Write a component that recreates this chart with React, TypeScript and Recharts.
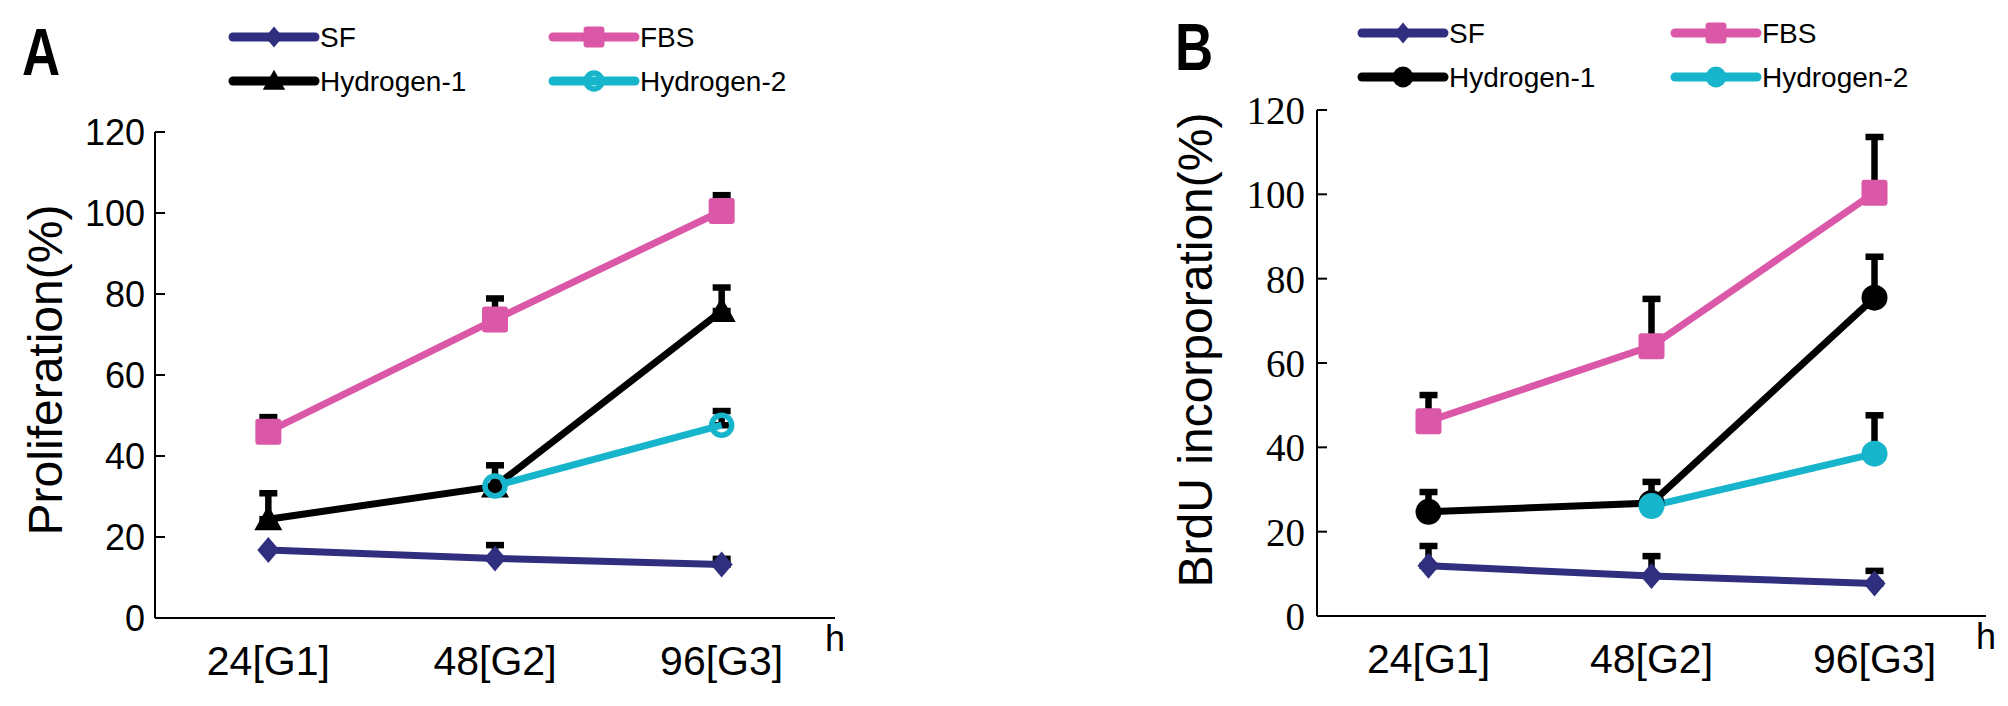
import React from 'react';
import { LineChart, Line, XAxis, YAxis, ErrorBar } from 'recharts';

const categories = ['24[G1]', '48[G2]', '96[G3]'];
const yTicks = [0, 20, 40, 60, 80, 100, 120];
const edgeTicks = [1, 2, 3];

// Panel A - proliferation (%)
const sfA = [16.8, 14.7, 13.2];
const sfErrA = [null, 3.3, 1.4];
const fbsA = [46.0, 73.7, 100.5];
const fbsErrA = [3.6, 5.2, 3.9];
const h1A = [24.4, 32.5, 75.8];
const h1ErrA = [6.4, 5.2, 5.8];
const h2A = [null, 32.6, 47.6];
const h2ErrA = [null, null, 3.5];

// Panel B - BrdU incorporation (%)
const sfB = [11.9, 9.5, 7.7];
const sfErrB = [4.7, 4.7, 3.0];
const fbsB = [46.2, 64.0, 100.4];
const fbsErrB = [6.2, 11.2, 13.2];
const h1B = [24.7, 26.8, 75.5];
const h1ErrB = [4.7, 5.0, 9.7];
const h2B = [null, 26.1, 38.5];
const h2ErrB = [null, null, 9.1];

const SANS = "'Liberation Sans', Arial, sans-serif";
const SERIF = "'Liberation Serif', 'Times New Roman', serif";

const COLORS = { sf: '#302e7e', fbs: '#da58a7', h1: '#000000', h2: '#17b5cc' };

// only upper error bars are drawn in the figure
const upErr = (e: number | null) => (e == null ? null : [0, e]);

const buildRows = (sf, sfErr, fbs, fbsErr, h1, h1Err, h2, h2Err) =>
  categories.map((cat, i) => ({
    cat,
    sf: sf[i],
    sfErr: upErr(sfErr[i]),
    fbs: fbs[i],
    fbsErr: upErr(fbsErr[i]),
    h1: h1[i],
    h1Err: upErr(h1Err[i]),
    h2: h2[i],
    h2Err: upErr(h2Err[i]),
  }));

const rowsA = buildRows(sfA, sfErrA, fbsA, fbsErrA, h1A, h1ErrA, h2A, h2ErrA);
const rowsB = buildRows(sfB, sfErrB, fbsB, fbsErrB, h1B, h1ErrB, h2B, h2ErrB);

type Shape = 'diamond' | 'square' | 'triangle' | 'circle' | 'ring';

const seriesA = [
  { key: 'sf', name: 'SF', shape: 'diamond' as Shape },
  { key: 'fbs', name: 'FBS', shape: 'square' as Shape },
  { key: 'h1', name: 'Hydrogen-1', shape: 'triangle' as Shape },
  { key: 'h2', name: 'Hydrogen-2', shape: 'ring' as Shape },
];
const seriesB = [
  { key: 'sf', name: 'SF', shape: 'diamond' as Shape },
  { key: 'fbs', name: 'FBS', shape: 'square' as Shape },
  { key: 'h1', name: 'Hydrogen-1', shape: 'circle' as Shape },
  { key: 'h2', name: 'Hydrogen-2', shape: 'circle' as Shape },
];

const Marker = ({ shape, x, y, color, scale = 1 }) => {
  const s = scale;
  if (shape === 'diamond') {
    return (
      <polygon
        points={`${x},${y - 13 * s} ${x + 11 * s},${y} ${x},${y + 13 * s} ${x - 11 * s},${y}`}
        fill={color}
      />
    );
  }
  if (shape === 'square') {
    return <rect x={x - 13 * s} y={y - 13 * s} width={26 * s} height={26 * s} rx={3} fill={color} />;
  }
  if (shape === 'triangle') {
    return (
      <polygon
        points={`${x},${y - 14 * s} ${x + 14 * s},${y + 11 * s} ${x - 14 * s},${y + 11 * s}`}
        fill={color}
      />
    );
  }
  if (shape === 'ring') {
    return <circle cx={x} cy={y} r={10 * s} fill="none" stroke={color} strokeWidth={5.5} />;
  }
  return <circle cx={x} cy={y} r={13 * s} fill={color} />;
};

const makeDot = (shape: Shape, color: string) => (props: any) => {
  const { cx, cy, index, value } = props;
  if (value == null || cx == null || cy == null) return <g key={`d-${index}`} />;
  return (
    <g key={`d-${index}`}>
      <Marker shape={shape} x={cx} y={cy} color={color} />
    </g>
  );
};

const LegendBlock = ({ series, x1, x2, y1, y2 }) => {
  const cols = [x1, x2];
  const rows = [y1, y2];
  return (
    <g>
      {series.map((s, i) => {
        const lx = cols[i % 2];
        const ly = rows[Math.floor(i / 2)];
        const color = COLORS[s.key];
        return (
          <g key={s.key}>
            <line x1={lx} y1={ly} x2={lx + 82} y2={ly} stroke={color} strokeWidth={9} strokeLinecap="round" />
            <Marker shape={s.shape} x={lx + 41} y={ly} color={color} scale={0.8} />
            <text x={lx + 87} y={ly} dominantBaseline="central" fontFamily={SANS} fontSize={28} fill="#000">
              {s.name}
            </text>
          </g>
        );
      })}
    </g>
  );
};

const PanelLetter = ({ x, y, letter }) => (
  <text
    transform={`translate(${x} ${y}) scale(0.8 1)`}
    fontFamily={SANS}
    fontWeight="bold"
    fontSize={66}
    fill="#000"
    textAnchor="middle"
  >
    {letter}
  </text>
);

const Panel = ({ rows, series, margin, width, yTitle, titleDx, titleDy, tickFont, tickMargin }) => (
  <LineChart width={width} height={706} data={rows} margin={margin}>
    <XAxis
      dataKey="cat"
      scale="band"
      tickLine={false}
      tickSize={0}
      tickMargin={28}
      height={60}
      axisLine={{ stroke: '#000', strokeWidth: 2 }}
      tick={{ fill: '#000', fontSize: 41, fontFamily: SANS }}
      interval={0}
      label={(p: any) => {
        const vb = p.viewBox;
        return (
          <text x={vb.x + vb.width} y={vb.y + 33} textAnchor="middle" fontFamily={SANS} fontSize={36} fill="#000">
            h
          </text>
        );
      }}
    />
    <XAxis
      xAxisId="edge"
      type="number"
      domain={[0, 3]}
      ticks={edgeTicks}
      mirror
      tick={false}
      tickSize={11}
      axisLine={false}
      tickLine={{ stroke: '#000', strokeWidth: 2 }}
      height={0}
    />
    <YAxis
      domain={[0, 120]}
      ticks={yTicks}
      interval={0}
      width={60}
      tickSize={-10}
      tickMargin={tickMargin}
      axisLine={{ stroke: '#000', strokeWidth: 2 }}
      tickLine={{ stroke: '#000', strokeWidth: 2 }}
      tick={{ fill: '#000', fontSize: tickFont.size, fontFamily: tickFont.family }}
      label={(p: any) => {
        const vb = p.viewBox;
        const cx = vb.x + titleDx;
        const cy = vb.y + vb.height / 2 + titleDy;
        return (
          <text
            x={cx}
            y={cy}
            transform={`rotate(-90 ${cx} ${cy})`}
            textAnchor="middle"
            dominantBaseline="central"
            fontFamily={SANS}
            fontSize={48}
            fill="#000"
          >
            {yTitle}
          </text>
        );
      }}
    />
    {series.map((s) => (
      <Line
        key={s.key}
        dataKey={s.key}
        name={s.name}
        type="linear"
        stroke={COLORS[s.key]}
        strokeWidth={7}
        dot={makeDot(s.shape, COLORS[s.key])}
        activeDot={false}
        isAnimationActive={false}
      >
        <ErrorBar
          dataKey={`${s.key}Err`}
          direction="y"
          width={9}
          strokeWidth={6.5}
          stroke="#000"
          isAnimationActive={false}
        />
      </Line>
    ))}
  </LineChart>
);

export default function App() {
  return (
    <div style={{ position: 'absolute', left: 0, top: 0, width: 2008, height: 706, background: '#fff' }}>
      <div style={{ position: 'absolute', left: 0, top: 0 }}>
        <Panel
          rows={rowsA}
          series={seriesA}
          width={1000}
          margin={{ top: 132, right: 165, bottom: 28, left: 95 }}
          yTitle="Proliferation(%)"
          titleDx={-50}
          titleDy={-5}
          tickFont={{ size: 36, family: SANS }}
          tickMargin={20}
        />
      </div>
      <div style={{ position: 'absolute', left: 1000, top: 0 }}>
        <Panel
          rows={rowsB}
          series={seriesB}
          width={1008}
          margin={{ top: 110, right: 22, bottom: 30, left: 257 }}
          yTitle="BrdU incorporation(%)"
          titleDx={-62}
          titleDy={-13}
          tickFont={{ size: 39, family: SERIF }}
          tickMargin={22}
        />
      </div>
      <svg
        width={2008}
        height={706}
        style={{ position: 'absolute', left: 0, top: 0, pointerEvents: 'none' }}
      >
        <PanelLetter x={41} y={75} letter="A" />
        <PanelLetter x={1194} y={70} letter="B" />
        <LegendBlock series={seriesA} x1={233} x2={553} y1={37} y2={81} />
        <LegendBlock series={seriesB} x1={1362} x2={1675} y1={33} y2={77} />
      </svg>
    </div>
  );
}
